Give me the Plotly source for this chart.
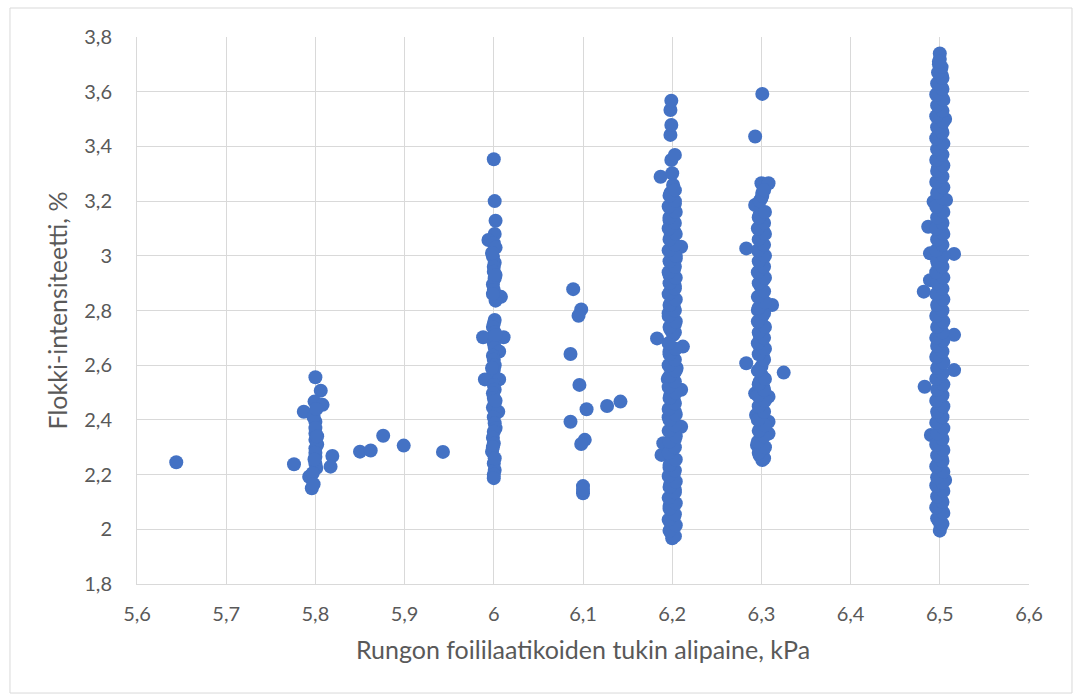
import plotly.graph_objects as go

# ---- data ----
x_58 = [5.644, 5.800, 5.806, 5.799, 5.808, 5.787, 5.800, 5.800, 5.800, 5.800,
        5.800, 5.776, 5.819, 5.817, 5.793, 5.796, 5.801, 5.800, 5.798, 5.802,
        5.800, 5.850, 5.862, 5.876, 5.899, 5.943, 5.800, 5.797, 5.798, 5.801,
        5.799, 5.802]
y_58 = [2.245, 2.556, 2.507, 2.467, 2.455, 2.430, 2.393, 2.350, 2.327, 2.296,
        2.265, 2.238, 2.268, 2.229, 2.192, 2.150, 2.224, 2.240, 2.410, 2.310,
        2.280, 2.284, 2.288, 2.342, 2.306, 2.283, 2.370, 2.205, 2.165, 2.440,
        2.255, 2.340]

x_60 = [6.000, 6.001, 6.002, 6.001, 5.994, 6.000, 6.002, 5.999, 6.001, 6.000,
        6.000, 6.001, 5.999, 6.000, 6.008, 6.002, 6.001, 6.000, 5.999, 6.001,
        5.988, 6.011, 6.000, 6.001, 6.006, 5.999, 6.000, 6.001, 6.000, 5.999,
        5.990, 6.006, 6.000, 6.001, 5.999, 6.000, 6.001, 5.999, 6.005, 6.000,
        6.001, 6.002, 6.000, 5.999, 6.000, 5.998, 6.000, 6.001, 6.000, 6.000,
        5.998, 6.002, 5.999, 6.002, 5.998, 6.002, 5.999, 6.001]
y_60 = [3.353, 3.200, 3.128, 3.080, 3.058, 3.046, 3.030, 2.997, 2.975, 2.960,
        2.942, 2.918, 2.895, 2.875, 2.850, 2.836, 2.765, 2.752, 2.740, 2.720,
        2.702, 2.702, 2.680, 2.665, 2.650, 2.635, 2.620, 2.600, 2.582, 2.565,
        2.548, 2.548, 2.528, 2.510, 2.497, 2.480, 2.461, 2.445, 2.430, 2.410,
        2.388, 2.370, 2.357, 2.335, 2.314, 2.284, 2.241, 2.217, 2.200, 2.187,
        3.010, 2.930, 2.860, 2.710, 2.590, 2.470, 2.300, 2.260]

x_61 = [6.089, 6.098, 6.095, 6.086, 6.096, 6.104, 6.127, 6.142, 6.086, 6.102,
        6.098, 6.100, 6.100, 6.100]
y_61 = [2.878, 2.804, 2.781, 2.641, 2.528, 2.439, 2.451, 2.467, 2.393, 2.327,
        2.312, 2.158, 2.132, 2.145]

x_62 = [6.200, 6.199, 6.201, 6.198, 6.202, 6.200, 6.197, 6.201, 6.199, 6.203,
        6.198, 6.200, 6.202, 6.197, 6.201,
        6.188, 6.200, 6.190, 6.203, 6.199, 6.210, 6.201, 6.196, 6.203, 6.199,
        6.202, 6.198, 6.210, 6.200, 6.195, 6.202, 6.205, 6.199, 6.201, 6.197,
        6.212, 6.183, 6.201, 6.198, 6.203, 6.200, 6.196, 6.202, 6.199, 6.201,
        6.198, 6.203, 6.200, 6.197, 6.202, 6.199, 6.204, 6.200, 6.210, 6.201,
        6.198, 6.202, 6.200, 6.197, 6.201, 6.199, 6.203, 6.200, 6.198, 6.201,
        6.187, 6.200, 6.199, 6.203, 6.198, 6.199, 6.198, 6.199]
y_62 = [1.967, 1.985, 2.005, 2.025, 2.045, 2.065, 2.085, 2.105, 2.125, 2.145,
        2.165, 2.185, 2.205, 2.225, 2.245,
        2.272, 2.290, 2.315, 2.330, 2.350, 2.375, 2.390, 2.410, 2.430, 2.450,
        2.470, 2.490, 2.510, 2.530, 2.550, 2.570, 2.590, 2.610, 2.630, 2.650,
        2.668, 2.698, 2.710, 2.730, 2.750, 2.770, 2.790, 2.810, 2.830, 2.850,
        2.870, 2.890, 2.910, 2.930, 2.950, 2.970, 2.990, 3.010, 3.033, 3.050,
        3.070, 3.090, 3.110, 3.130, 3.150, 3.170, 3.190, 3.210, 3.230, 3.259,
        3.289, 3.302, 3.350, 3.369, 3.442, 3.478, 3.533, 3.567]
x_62b = [6.203, 6.197, 6.204, 6.196, 6.203, 6.197, 6.204, 6.196, 6.203, 6.197,
         6.204, 6.196, 6.203, 6.197, 6.204, 6.196, 6.203, 6.197, 6.204, 6.196,
         6.203, 6.197, 6.204, 6.196, 6.203, 6.197, 6.204, 6.196, 6.203, 6.197,
         6.204, 6.196, 6.203, 6.197, 6.204, 6.196, 6.203, 6.197, 6.204, 6.196,
         6.203, 6.197, 6.204, 6.196, 6.203, 6.197, 6.204, 6.196, 6.203, 6.197,
         6.204, 6.196, 6.203, 6.197, 6.204, 6.196, 6.203, 6.197, 6.204, 6.196,
         6.203, 6.197, 6.203]
y_62b = [1.975, 1.995, 2.015, 2.035, 2.055, 2.075, 2.095, 2.115, 2.135, 2.155,
         2.175, 2.195, 2.215, 2.235, 2.255, 2.280, 2.300, 2.320, 2.340, 2.360,
         2.380, 2.400, 2.420, 2.440, 2.460, 2.480, 2.500, 2.520, 2.540, 2.560,
         2.580, 2.600, 2.620, 2.640, 2.660, 2.680, 2.720, 2.740, 2.760, 2.780,
         2.800, 2.820, 2.840, 2.860, 2.880, 2.900, 2.920, 2.940, 2.960, 2.980,
         3.000, 3.020, 3.040, 3.060, 3.080, 3.100, 3.120, 3.140, 3.160, 3.180,
         3.200, 3.220, 3.240]

x_63 = [6.301, 6.298, 6.302, 6.295, 6.300, 6.308, 6.299, 6.308, 6.294, 6.301,
        6.299, 6.308, 6.293, 6.302, 6.298, 6.301, 6.325, 6.300, 6.283, 6.302,
        6.299, 6.301, 6.300, 6.298, 6.302, 6.300, 6.299, 6.301, 6.296, 6.312,
        6.300, 6.301, 6.299, 6.302, 6.300, 6.301, 6.299, 6.302, 6.300, 6.283,
        6.301, 6.300, 6.302, 6.301, 6.300, 6.298, 6.293, 6.300, 6.301, 6.300,
        6.308, 6.293, 6.301]
y_63 = [2.253, 2.270, 2.290, 2.308, 2.330, 2.350, 2.370, 2.393, 2.418, 2.440,
        2.460, 2.485, 2.497, 2.520, 2.540, 2.560, 2.573, 2.595, 2.607, 2.630,
        2.655, 2.675, 2.692, 2.710, 2.730, 2.750, 2.765, 2.780, 2.802, 2.820,
        2.840, 2.863, 2.890, 2.911, 2.930, 2.948, 2.970, 2.990, 3.010, 3.027,
        3.047, 3.070, 3.090, 3.110, 3.131, 3.150, 3.186, 3.210, 3.230, 3.265,
        3.265, 3.436, 3.592]
x_63b = [6.303, 6.297, 6.304, 6.296, 6.303, 6.297, 6.304, 6.296, 6.303, 6.297,
         6.304, 6.296, 6.303, 6.297, 6.304, 6.296, 6.303, 6.297, 6.304, 6.296,
         6.303, 6.297, 6.304, 6.296, 6.303, 6.297, 6.304, 6.296, 6.303, 6.297,
         6.304, 6.296, 6.303, 6.297, 6.304, 6.296, 6.303, 6.297, 6.304, 6.296,
         6.303, 6.297, 6.304, 6.298, 6.301, 6.303]
y_63b = [2.260, 2.280, 2.300, 2.320, 2.340, 2.360, 2.380, 2.400, 2.430, 2.450,
         2.470, 2.490, 2.510, 2.530, 2.550, 2.580, 2.620, 2.640, 2.660, 2.680,
         2.700, 2.720, 2.740, 2.760, 2.790, 2.810, 2.830, 2.850, 2.870, 2.900,
         2.920, 2.940, 2.960, 2.980, 3.000, 3.020, 3.040, 3.060, 3.080, 3.100,
         3.120, 3.140, 3.160, 3.200, 3.220, 3.240]

x_65 = [6.500, 6.501, 6.499, 6.500, 6.502, 6.498, 6.501, 6.499, 6.500, 6.506,
        6.499, 6.501, 6.498, 6.502, 6.500, 6.499, 6.501, 6.490, 6.502, 6.499,
        6.500, 6.498, 6.502, 6.501, 6.499, 6.500, 6.483, 6.501, 6.499, 6.516,
        6.500, 6.502, 6.498, 6.501, 6.499, 6.516, 6.500, 6.502, 6.499, 6.501,
        6.498, 6.500, 6.502, 6.482, 6.499, 6.489, 6.501, 6.500, 6.498, 6.502,
        6.516, 6.489, 6.500, 6.501, 6.499, 6.502, 6.487, 6.500, 6.501, 6.499,
        6.493, 6.507, 6.500, 6.502, 6.499, 6.501, 6.500, 6.498, 6.502, 6.500,
        6.499, 6.501, 6.500, 6.498, 6.502, 6.500, 6.506, 6.501, 6.499, 6.500,
        6.502, 6.499, 6.501, 6.500, 6.502, 6.501, 6.499, 6.500, 6.500]
y_65 = [1.995, 2.010, 2.030, 2.050, 2.070, 2.090, 2.110, 2.130, 2.150, 2.180,
        2.200, 2.220, 2.240, 2.260, 2.280, 2.300, 2.320, 2.345, 2.360, 2.380,
        2.400, 2.420, 2.440, 2.460, 2.480, 2.500, 2.521, 2.540, 2.560, 2.582,
        2.600, 2.620, 2.640, 2.660, 2.680, 2.711, 2.730, 2.750, 2.770, 2.790,
        2.810, 2.830, 2.850, 2.869, 2.890, 2.911, 2.930, 2.950, 2.970, 2.990,
        3.007, 3.009, 3.030, 3.050, 3.070, 3.090, 3.106, 3.130, 3.150, 3.170,
        3.198, 3.204, 3.220, 3.240, 3.260, 3.280, 3.300, 3.320, 3.340, 3.360,
        3.380, 3.400, 3.420, 3.440, 3.460, 3.480, 3.500, 3.520, 3.540, 3.560,
        3.580, 3.600, 3.620, 3.640, 3.660, 3.680, 3.700, 3.720, 3.740]
x_65b = [6.503, 6.497, 6.504, 6.496, 6.503, 6.497, 6.504, 6.496, 6.503, 6.497,
         6.504, 6.496, 6.503, 6.497, 6.504, 6.496, 6.503, 6.497, 6.504, 6.496,
         6.503, 6.497, 6.504, 6.496, 6.503, 6.497, 6.504, 6.496, 6.503, 6.497,
         6.504, 6.496, 6.503, 6.497, 6.504, 6.496, 6.503, 6.497, 6.504, 6.496,
         6.503, 6.497, 6.504, 6.496, 6.503, 6.497, 6.504, 6.496, 6.503, 6.497,
         6.504, 6.496, 6.503, 6.497, 6.504, 6.496, 6.503, 6.497, 6.504, 6.496,
         6.503, 6.497, 6.504, 6.496, 6.503, 6.497, 6.504, 6.496, 6.503, 6.497,
         6.504, 6.496, 6.503, 6.497, 6.504, 6.496, 6.503, 6.497, 6.504, 6.496,
         6.503, 6.497, 6.503, 6.498, 6.502, 6.499]
y_65b = [2.020, 2.040, 2.060, 2.080, 2.100, 2.120, 2.140, 2.160, 2.170, 2.190,
         2.210, 2.230, 2.250, 2.270, 2.290, 2.310, 2.330, 2.350, 2.370, 2.390,
         2.410, 2.430, 2.450, 2.470, 2.490, 2.510, 2.530, 2.550, 2.570, 2.590,
         2.610, 2.630, 2.650, 2.670, 2.690, 2.700, 2.720, 2.740, 2.760, 2.780,
         2.800, 2.820, 2.840, 2.860, 2.880, 2.900, 2.920, 2.940, 2.960, 2.980,
         3.000, 3.020, 3.040, 3.060, 3.080, 3.100, 3.120, 3.140, 3.160, 3.180,
         3.210, 3.230, 3.250, 3.270, 3.290, 3.310, 3.330, 3.350, 3.370, 3.390,
         3.410, 3.430, 3.450, 3.470, 3.490, 3.510, 3.530, 3.550, 3.570, 3.590,
         3.610, 3.630, 3.650, 3.670, 3.690, 3.710]

x_tickvals = [5.6, 5.7, 5.8, 5.9, 6.0, 6.1, 6.2, 6.3, 6.4, 6.5, 6.6]
x_ticktext = ["5,6", "5,7", "5,8", "5,9", "6", "6,1", "6,2", "6,3", "6,4", "6,5", "6,6"]
y_tickvals = [1.8, 2.0, 2.2, 2.4, 2.6, 2.8, 3.0, 3.2, 3.4, 3.6, 3.8]
y_ticktext = ["1,8", "2", "2,2", "2,4", "2,6", "2,8", "3", "3,2", "3,4", "3,6", "3,8"]

x_title = "Rungon foililaatikoiden tukin alipaine, kPa"
y_title = "Flokki-intensiteetti, %"

x_all = x_58 + x_60 + x_61 + x_62 + x_62b + x_63 + x_63b + x_65 + x_65b
y_all = y_58 + y_60 + y_61 + y_62 + y_62b + y_63 + y_63b + y_65 + y_65b

FONT = "Lato, Carlito, Calibri, sans-serif"
TXT = "#595959"
GRID = "#d9d9d9"

fig = go.Figure()
fig.add_trace(go.Scatter(
    x=x_all, y=y_all, mode="markers",
    marker=dict(color="#4472C4", size=14, line=dict(width=0)),
    showlegend=False, hoverinfo="x+y",
))

fig.update_layout(
    width=1075, height=695,
    paper_bgcolor="white", plot_bgcolor="white",
    margin=dict(l=137, r=46, t=37, b=111),
    font=dict(family=FONT, color=TXT, size=20),
    shapes=[dict(type="rect", xref="paper", yref="paper",
                 x0=-0.1424, x1=1.0482, y0=-0.1993, y1=1.053,
                 line=dict(color=GRID, width=1), layer="below")],
)
fig.update_xaxes(
    range=[5.6, 6.6], tickvals=x_tickvals, ticktext=x_ticktext,
    showgrid=True, gridcolor=GRID, gridwidth=1, zeroline=False,
    showline=True, linecolor=GRID, linewidth=1,
    ticks="outside", ticklen=12, tickcolor="rgba(0,0,0,0)",
    tickfont=dict(size=20, color=TXT, family=FONT),
    title=dict(text=x_title, font=dict(size=25, color=TXT, family=FONT), standoff=17),
)
fig.update_yaxes(
    range=[1.8, 3.8], tickvals=y_tickvals, ticktext=y_ticktext,
    showgrid=True, gridcolor=GRID, gridwidth=1, zeroline=False,
    showline=True, linecolor=GRID, linewidth=1,
    ticks="outside", ticklen=20, tickcolor="rgba(0,0,0,0)",
    tickfont=dict(size=20, color=TXT, family=FONT),
    title=dict(text=y_title, font=dict(size=25, color=TXT, family=FONT), standoff=9),
)

fig.write_html("out.html")
